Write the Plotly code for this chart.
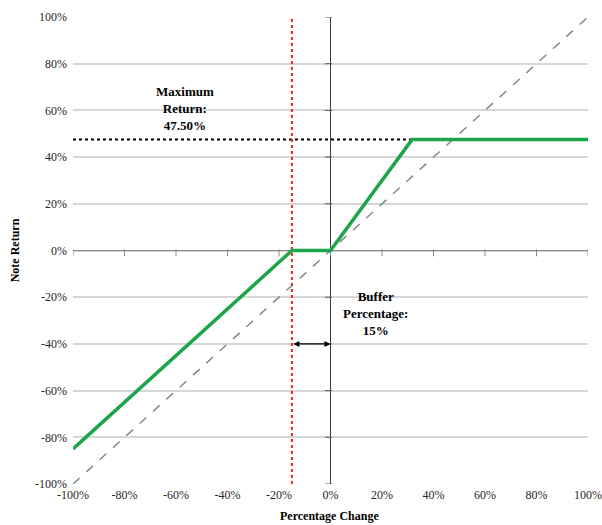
import plotly.graph_objects as go

# Data (fractions)
note_x = [-1.0, -0.15, 0.0, 0.3167, 1.0]
note_y = [-0.85, 0.0, 0.0, 0.475, 0.475]
ref_x = [-1.0, 1.0]
ref_y = [-1.0, 1.0]
buffer_level = -0.15
max_return = 0.475
cap_x = 0.3167
tick_vals = [-1.0, -0.8, -0.6, -0.4, -0.2, 0.0, 0.2, 0.4, 0.6, 0.8, 1.0]
tick_labels = ["-100%", "-80%", "-60%", "-40%", "-20%", "0%",
               "20%", "40%", "60%", "80%", "100%"]

FONT = "Liberation Serif, Times New Roman, serif"

fig = go.Figure()

# underlying (dashed diagonal)
fig.add_trace(go.Scatter(x=ref_x, y=ref_y, mode="lines",
                         line=dict(color="rgb(125,140,140)", width=1.5, dash="dash"),
                         hoverinfo="skip", showlegend=False))

# x=0 vertical axis line and its ticks
fig.add_trace(go.Scatter(x=[0, 0], y=[-1, 1], mode="lines",
                         line=dict(color="rgb(60,60,60)", width=1),
                         hoverinfo="skip", showlegend=False))
fig.add_trace(go.Scatter(x=[-0.008] * len(tick_vals), y=tick_vals, mode="markers",
                         marker=dict(symbol="line-ew", size=5,
                                     line=dict(color="rgb(90,90,90)", width=1)),
                         hoverinfo="skip", showlegend=False))
# y=0 horizontal axis line and its ticks
fig.add_trace(go.Scatter(x=[-1, 1], y=[0, 0], mode="lines",
                         line=dict(color="rgb(135,135,135)", width=1),
                         hoverinfo="skip", showlegend=False))
fig.add_trace(go.Scatter(x=tick_vals, y=[-0.01] * len(tick_vals), mode="markers",
                         marker=dict(symbol="line-ns", size=5,
                                     line=dict(color="rgb(135,135,135)", width=1)),
                         hoverinfo="skip", showlegend=False))

# max return dotted line
fig.add_trace(go.Scatter(x=[-1.0, cap_x], y=[max_return, max_return], mode="lines",
                         line=dict(color="black", width=2, dash="dot"),
                         hoverinfo="skip", showlegend=False))

# buffer red dotted vertical
fig.add_trace(go.Scatter(x=[buffer_level, buffer_level], y=[-1, 1], mode="lines",
                         line=dict(color="rgb(225,40,40)", width=2, dash="dot"),
                         hoverinfo="skip", showlegend=False))

# note return
fig.add_trace(go.Scatter(x=note_x, y=note_y, mode="lines",
                         line=dict(color="rgb(30,165,75)", width=3.5),
                         showlegend=False))

fig.add_annotation(x=-0.565, y=0.61, xref="x", yref="y",
                   text="<b>Maximum<br>Return:<br>47.50%</b>", showarrow=False,
                   font=dict(family=FONT, size=13, color="black"), align="center")
fig.add_annotation(x=0.173, y=-0.27, xref="x", yref="y",
                   text="<b>Buffer<br>Percentage:<br>15%</b>", showarrow=False,
                   font=dict(family=FONT, size=13, color="black"), align="center")
fig.add_annotation(x=0.0, y=-0.40, ax=buffer_level, ay=-0.40,
                   xref="x", yref="y", axref="x", ayref="y",
                   text="", showarrow=True, arrowhead=2, arrowside="end+start",
                   arrowsize=1, arrowwidth=1.2, arrowcolor="black",
                   standoff=0, startstandoff=0)

# axis titles
fig.add_annotation(x=0.499, y=-0.068, xref="paper", yref="paper",
                   text="<b>Percentage Change</b>", showarrow=False,
                   font=dict(family=FONT, size=12, color="black"),
                   xanchor="center", yanchor="middle")
fig.add_annotation(x=-0.113, y=0.5, xref="paper", yref="paper",
                   text="<b>Note Return</b>", showarrow=False, textangle=-90,
                   font=dict(family=FONT, size=12, color="black"),
                   xanchor="center", yanchor="middle")

fig.update_layout(
    width=602, height=525,
    margin=dict(l=73, r=14, t=17, b=41, autoexpand=False),
    paper_bgcolor="white", plot_bgcolor="white",
    font=dict(family=FONT, size=12, color="black"),
    xaxis=dict(range=[-1, 1], tickvals=tick_vals, ticktext=tick_labels,
               showgrid=False, zeroline=False, showline=False, ticks="",
               automargin=False, ticklabelstandoff=2,
               tickfont=dict(family=FONT, size=12, color="rgb(40,40,40)")),
    yaxis=dict(range=[-1, 1], tickvals=tick_vals, ticktext=tick_labels,
               showgrid=True, gridcolor="rgb(215,215,215)", gridwidth=1.5,
               zeroline=False, showline=False, ticks="",
               automargin=False, ticklabelstandoff=5,
               tickfont=dict(family=FONT, size=12, color="rgb(40,40,40)")),
)

fig.write_html("out.html", config={"displayModeBar": False},
               post_script="document.body.style.margin='0px';document.body.style.overflow='hidden';")
